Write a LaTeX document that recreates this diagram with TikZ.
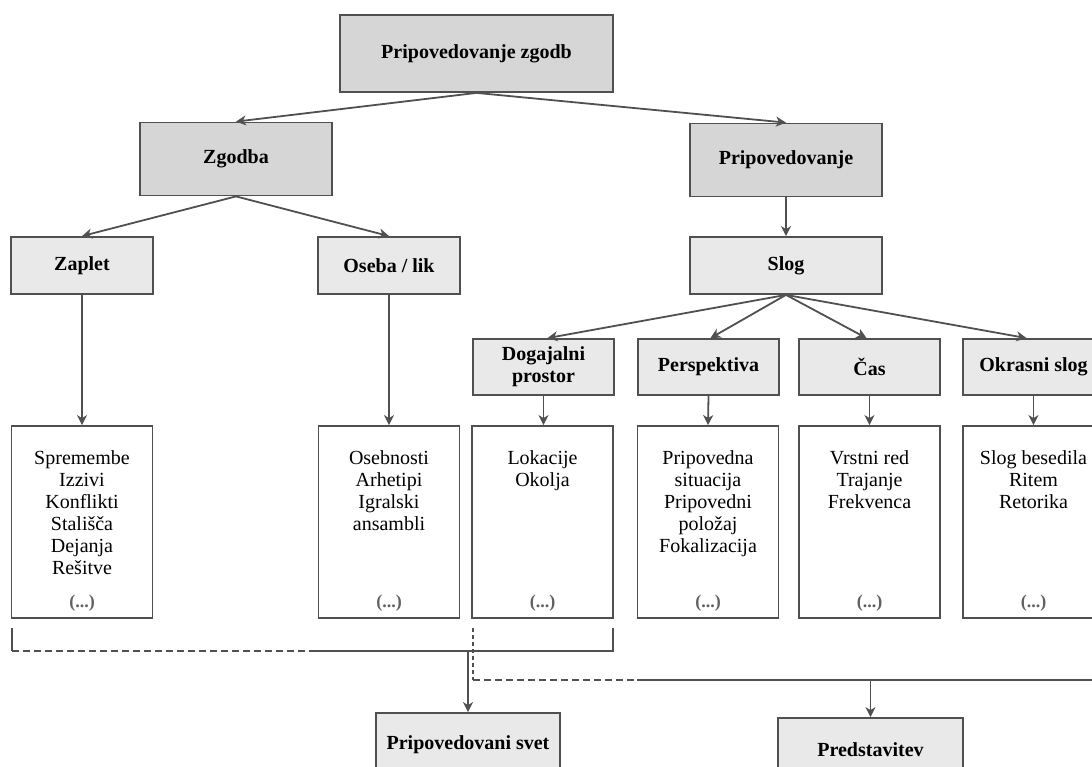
\documentclass[tikz,border=0pt]{standalone}
\usepackage{fontspec}
\setmainfont{Liberation Serif}
\usetikzlibrary{arrows.meta,calc}
\definecolor{edge}{HTML}{505050}
\definecolor{darkfill}{HTML}{D6D6D6}
\definecolor{lightfill}{HTML}{E9E9E9}
\definecolor{dotsgray}{HTML}{606060}
\tikzset{
  basebox/.style={draw=edge, line width=1.8pt, inner sep=0pt, align=center,
    font=\fontsize{20}{22}\selectfont\bfseries},
  mainbox/.style={basebox, fill=darkfill},
  subbox/.style={basebox, fill=lightfill},
  contentbox/.style={draw=edge, line width=1.8pt, fill=white, inner sep=0pt,
    minimum width=141pt, minimum height=192pt},
  contenttext/.style={anchor=north, inner sep=0pt, align=center,
    font=\fontsize{20}{22}\selectfont},
  moretext/.style={inner sep=0pt, text=dotsgray, font=\fontsize{18}{20}\selectfont\bfseries},
  arr/.style={draw=edge, line width=1.8pt, -{Stealth[length=10pt,width=10pt,inset=3pt]}},
  plainline/.style={draw=edge, line width=1.8pt},
  dashline/.style={draw=edge, line width=1.8pt, dash pattern=on 7pt off 4pt},
  dotline/.style={draw=edge, line width=1.8pt, dash pattern=on 3.5pt off 3.5pt},
}
\begin{document}
\begin{tikzpicture}[x=1pt,y=-1pt]
\useasboundingbox (0,0) rectangle (1092,767);
\clip (0,0) rectangle (1092,767);

% level 1-3
\node[mainbox, minimum width=273pt, minimum height=77pt] (top) at (476.5,53.5) {Pripovedovanje zgodb};
\node[mainbox, minimum width=192pt, minimum height=73pt] (zg) at (236,159) {Zgodba};
\node[mainbox, minimum width=192pt, minimum height=73pt] (pr) at (786,160) {Pripovedovanje};
\node[subbox, minimum width=142pt, minimum height=57pt] (zap) at (82,265.5) {Zaplet};
\node[subbox, minimum width=142pt, minimum height=57pt] (os) at (389,265.5) {Oseba / lik};
\node[subbox, minimum width=192pt, minimum height=57pt] (slog) at (786,265.5) {Slog};

% level 4
\node[subbox, minimum width=141pt, minimum height=56pt] (dog) at (543.5,367) {Dogajalni\\prostor};
\node[subbox, minimum width=141pt, minimum height=56pt] (per) at (708.5,367) {Perspektiva};
\node[subbox, minimum width=141pt, minimum height=56pt] (cas) at (869.5,367) {Čas};
\node[subbox, minimum width=141pt, minimum height=56pt] (okr) at (1033.5,367) {Okrasni slog};

% content boxes
\node[contentbox] (zapc) at (82,522) {};
\node[contentbox] (osc) at (389,522) {};
\node[contentbox] (dogc) at (542.5,522) {};
\node[contentbox] (perc) at (708,522) {};
\node[contentbox] (casc) at (869.5,522) {};
\node[contentbox] (okrc) at (1033.5,522) {};

\node[contenttext] (zapt) at ($(zapc.north)+(0,25)$) {Spremembe\\Izzivi\\Konflikti\\Stališča\\Dejanja\\Rešitve};
\node[contenttext] (ost) at ($(osc.north)+(0,25)$) {Osebnosti\\Arhetipi\\Igralski\\ansambli};
\node[contenttext] (dogt) at ($(dogc.north)+(0,25)$) {Lokacije\\Okolja};
\node[contenttext] (pert) at ($(perc.north)+(0,25)$) {Pripovedna\\situacija\\Pripovedni\\položaj\\Fokalizacija};
\node[contenttext] (cast) at ($(casc.north)+(0,25)$) {Vrstni red\\Trajanje\\Frekvenca};
\node[contenttext] (okrt) at ($(okrc.north)+(0,25)$) {Slog besedila\\Ritem\\Retorika};

\foreach \c in {zapc,osc,dogc,perc,casc,okrc}{
  \node[moretext] at ($(\c.south)+(0,-16)$) {(...)};
}

% bottom boxes
\node[subbox, minimum width=184pt, minimum height=64pt] (svet) at (468,745) {Pripovedovani svet};
\node[subbox, minimum width=185pt, minimum height=64pt] (pred) at (870.5,750) {Predstavitev};

% arrows
\draw[arr] (top.south) -- (zg.north);
\draw[arr] (top.south) -- (pr.north);
\draw[arr] (zg.south) -- (zap.north);
\draw[arr] (zg.south) -- (os.north);
\draw[arr] (pr.south) -- (slog.north);
\draw[arr] (slog.south) -- ($(dog.north)+(4,0)$);
\draw[arr] (slog.south) -- ($(per.north)+(2,0)$);
\draw[arr] (slog.south) -- ($(cas.north)+(-3,0)$);
\draw[arr] (slog.south) -- ($(okr.north)+(-7,0)$);
\draw[arr] (zap.south) -- (zapc.north);
\draw[arr] (os.south) -- (osc.north);
\draw[arr] (dog.south) -- (dogc.north -| dog.south);
\draw[arr] (per.south) -- (perc.north);
\draw[arr] (cas.south) -- (casc.north);
\draw[arr] (okr.south) -- (okrc.north);

% bottom brackets
\coordinate (bLt) at (12,628);
\coordinate (bLb) at (12,651);
\coordinate (bMid) at (315,651);
\coordinate (bJ) at (468,651);
\coordinate (bRb) at (613,651);
\coordinate (bRt) at (613,628);
\draw[plainline] (bLt) -- (bLb);
\draw[dashline] (bLb) -- (bMid);
\draw[plainline] (bMid) -- (bRb) -- (bRt);
\draw[arr] (bJ) -- (svet.north);

\coordinate (dTop) at (473,628);
\coordinate (dBot) at (473,680);
\coordinate (dMid) at (637,680);
\coordinate (dJ) at (870.5,680);
\coordinate (dEnd) at (1100,680);
\draw[dotline] (dTop) -- (dBot);
\draw[dashline] (dBot) -- (dMid);
\draw[plainline] (dMid) -- (dEnd);
\draw[arr] (dJ) -- (pred.north);
\end{tikzpicture}
\end{document}
